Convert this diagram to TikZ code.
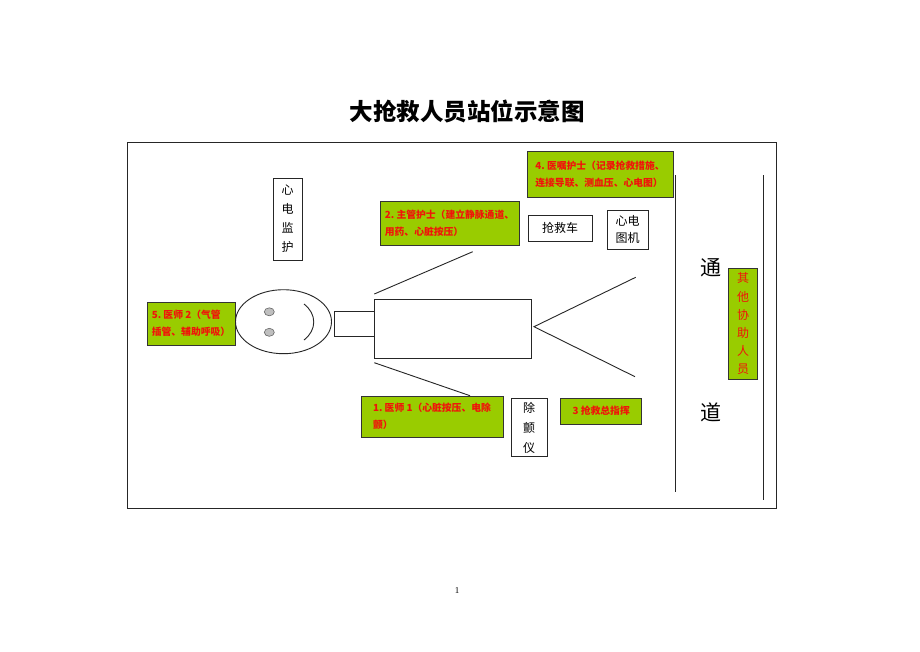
\documentclass[tikz,border=0pt]{standalone}
\usepackage{fontspec}
\usetikzlibrary{shapes.geometric}
\setmainfont{Liberation Serif}
\newfontfamily\cjk{Noto Sans CJK SC}
\definecolor{boxgreen}{RGB}{153,204,0}
\definecolor{txtred}{RGB}{240,20,10}
\tikzset{
  frame/.style={draw=black!85, line width=0.9pt},
  gbox/.style={draw=black!80, line width=1pt, fill=boxgreen, inner sep=0pt,
    text=txtred, font=\cjk\bfseries\fontsize{9.8}{17}\selectfont, align=left},
  wbox/.style={draw=black!85, line width=0.8pt, fill=white, inner sep=0pt,
    font=\cjk\fontsize{12}{19}\selectfont, align=center},
  plain/.style={draw=black!85, line width=0.9pt},
  eye/.style={draw=black!60, fill=black!25, ellipse, minimum width=10, minimum height=8, inner sep=0pt, line width=0.6pt},
}
\begin{document}
\begin{tikzpicture}[x=1pt,y=-1pt]
\useasboundingbox (0,0) rectangle (920,651);
\fill[white] (0,0) rectangle (920,651);
% title
\node[font=\cjk\bfseries\fontsize{23.5}{26}\selectfont] (title) at (467,111) {大抢救人员站位示意图};
% outer frame
\node[frame, minimum width=649, minimum height=366, inner sep=0pt] (outer) at (451.5,325) {};
% monitor
\node[wbox, minimum width=29, minimum height=82] (monitor) at (287.5,219) {心\\电\\监\\护};
% nurse 2
\node[gbox, minimum width=139, minimum height=44] (n2) at (449.5,223) {2.\ 主管护士（建立静脉通道、\\用药、心脏按压）};
% nurse 4
\node[gbox, minimum width=146, minimum height=46] (n4) at (600,174) {4.\ 医嘱护士（记录抢救措施、\\连接导联、测血压、心电图）};
% cart
\node[wbox, minimum width=64, minimum height=26] (cart) at (560,228) {抢救车};
% ecg machine
\node[wbox, minimum width=41, minimum height=39, font=\cjk\fontsize{12}{17}\selectfont] (ecg) at (627.5,229.5) {心电\\图机};
% doctor 2
\node[gbox, minimum width=88, minimum height=43] (d2) at (191,323.5) {5.\ 医师 2（气管\\插管、辅助呼吸）};
% face
\draw[plain] (283.5,321.7) ellipse [x radius=48, y radius=32];
\node[eye] (eye1) at (269.3,311.8) {};
\node[eye] (eye2) at (269.3,332.3) {};
\draw[plain] (304,304) .. controls (317,314) and (317,330) .. (304,340);
% pillow and bed
\node[plain, minimum width=40, minimum height=25, inner sep=0pt] (pillow) at (354.3,324.3) {};
\node[plain, minimum width=157.7, minimum height=59.3, inner sep=0pt] (bed) at (452.8,328.7) {};
% lines around bed
\coordinate (ul1) at (374.3,294);
\coordinate (ul2) at (472.7,251.7);
\coordinate (ll1) at (374.3,362.7);
\coordinate (ll2) at (470,395.7);
\coordinate (vtip) at (534,326.7);
\coordinate (vr1) at (635.7,277.3);
\coordinate (vr2) at (635,376.7);
\draw[plain] (ul1) -- (ul2);
\draw[plain] (ll1) -- (ll2);
\draw[plain] (vr1) -- (vtip) -- (vr2);
% doctor 1
\node[gbox, minimum width=142, minimum height=41] (d1) at (432,416.7) {1.\ 医师 1（心脏按压、电除\\颤）};
% defibrillator
\node[wbox, minimum width=36, minimum height=58, font=\cjk\fontsize{12}{20}\selectfont] (defib) at (529.2,427.5) {除\\颤\\仪};
% commander
\node[gbox, minimum width=81, minimum height=25.7, align=center] (cmd) at (601.2,411.2) {3 抢救总指挥};
% corridor lines
\coordinate (c1a) at (675,175);
\coordinate (c1b) at (675,491.7);
\coordinate (c2a) at (763.3,175);
\coordinate (c2b) at (763.3,500);
\draw[plain] (c1a) -- (c1b);
\draw[plain] (c2a) -- (c2b);
\node[font=\cjk\fontsize{21}{24}\selectfont] (tong) at (710.7,268) {通};
\node[font=\cjk\fontsize{21}{24}\selectfont] (dao) at (710.7,412) {道};
% others
\node[gbox, minimum width=29.4, minimum height=111, align=center, font=\cjk\fontsize{12}{18.2}\selectfont] (others) at (743,323.8) {其\\他\\协\\助\\人\\员};
% page number
\node[font=\fontsize{9}{10}\selectfont] (page) at (457,591) {1};
\end{tikzpicture}
\end{document}
